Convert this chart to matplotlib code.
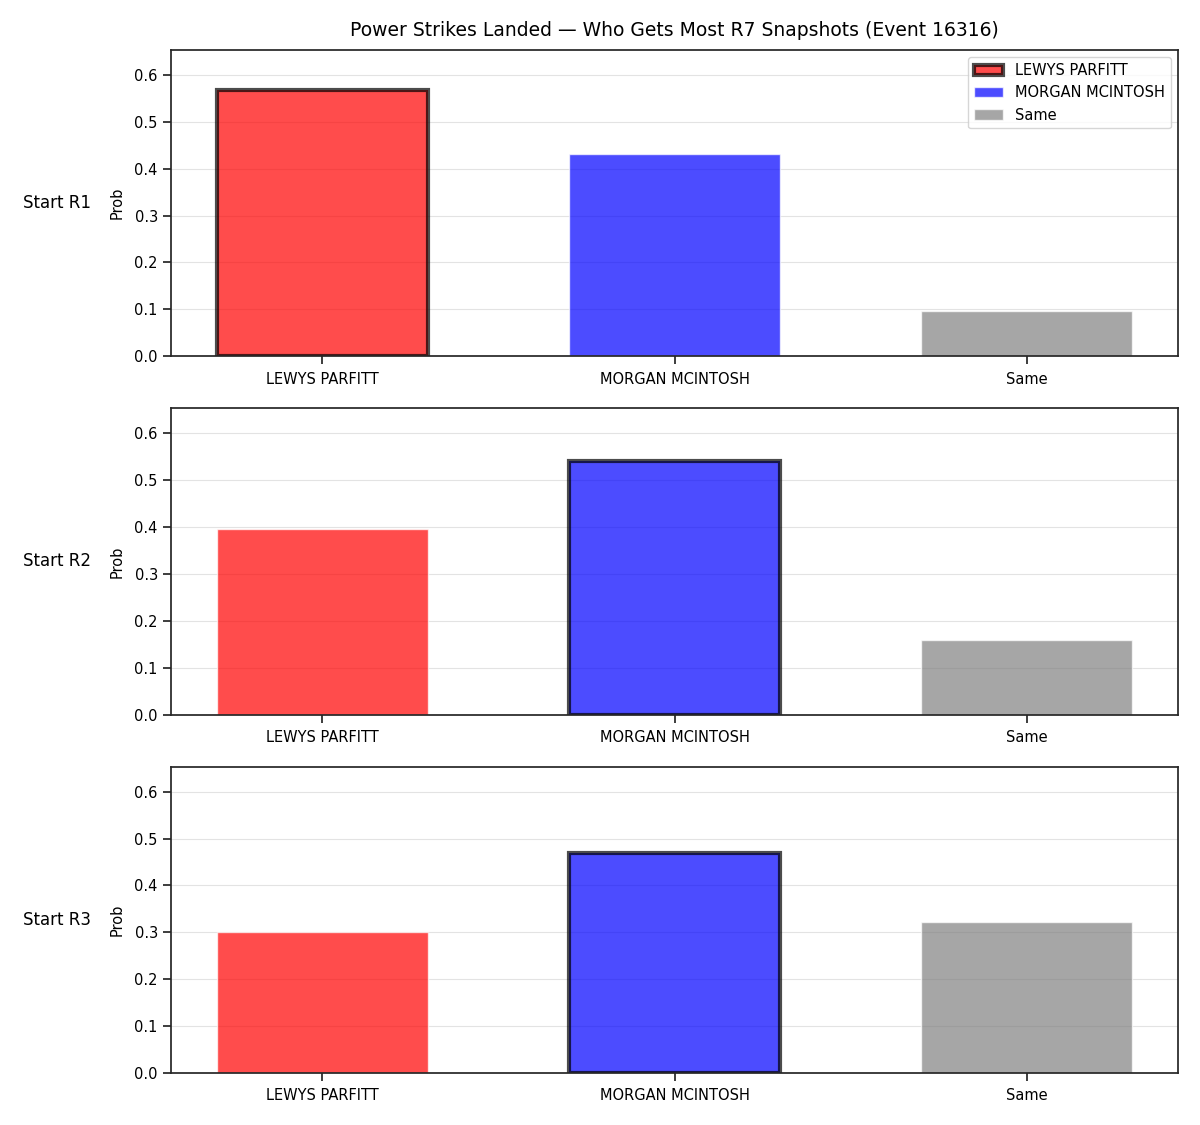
import matplotlib
matplotlib.use("Agg")
import matplotlib.pyplot as plt
import numpy as np

categories = ["LEWYS PARFITT", "MORGAN MCINTOSH", "Same"]
row_labels = ["Start R1", "Start R2", "Start R3"]
r1_probs = [0.568, 0.431, 0.097]
r2_probs = [0.395, 0.540, 0.160]
r3_probs = [0.301, 0.470, 0.323]
highlight = [0, 1, 1]
bar_colors = ["red", "blue", "gray"]
title = "Power Strikes Landed \u2014 Who Gets Most R7 Snapshots (Event 16316)"

dark = "#262626"
plt.rcParams.update({
    "axes.edgecolor": dark,
    "axes.linewidth": 1.25,
    "xtick.color": dark,
    "ytick.color": dark,
    "xtick.major.width": 1.25,
    "ytick.major.width": 1.25,
    "xtick.major.size": 6,
    "ytick.major.size": 6,
    "xtick.major.pad": 5,
    "text.color": "black",
    "axes.labelcolor": "black",
    "xtick.labelcolor": "black",
    "ytick.labelcolor": "black",
})

rows = [r1_probs, r2_probs, r3_probs]
ymax = max(max(r) for r in rows) * 1.15

fig, axes = plt.subplots(3, 1, figsize=(12, 11.25), dpi=100)
fig.subplots_adjust(left=0.1425, right=0.9817, top=0.9556, bottom=0.0462, hspace=0.17)

x = np.arange(len(categories))
for i, (ax, vals) in enumerate(zip(axes, rows)):
    ax.grid(axis="y", color="#dddddd", linewidth=0.8, alpha=0.8)
    ax.set_axisbelow(True)
    for j, v in enumerate(vals):
        if j == highlight[i]:
            ax.bar(x[j], v, width=0.6, color=bar_colors[j], alpha=0.7,
                   edgecolor="black", linewidth=3, label=categories[j])
        else:
            ax.bar(x[j], v, width=0.6, color=bar_colors[j], alpha=0.7,
                   edgecolor="white", linewidth=1, label=categories[j])
    ax.set_ylim(0, ymax)
    ax.set_xlim(-0.43, 2.43)
    ax.set_xticks(x)
    ax.set_xticklabels(categories, fontsize=10.5)
    ax.tick_params(axis="y", labelsize=10.5)
    ax.set_ylabel("Prob", fontsize=10.5, labelpad=7)
    ax.text(-0.079, 0.5, row_labels[i], transform=ax.transAxes, ha="right",
            va="center", fontsize=12)
    if i == 0:
        ax.legend(loc="upper right", fontsize=10.5)
        ax.set_title(title, fontsize=13.5, pad=10)

fig.savefig("out.png", dpi=100)
